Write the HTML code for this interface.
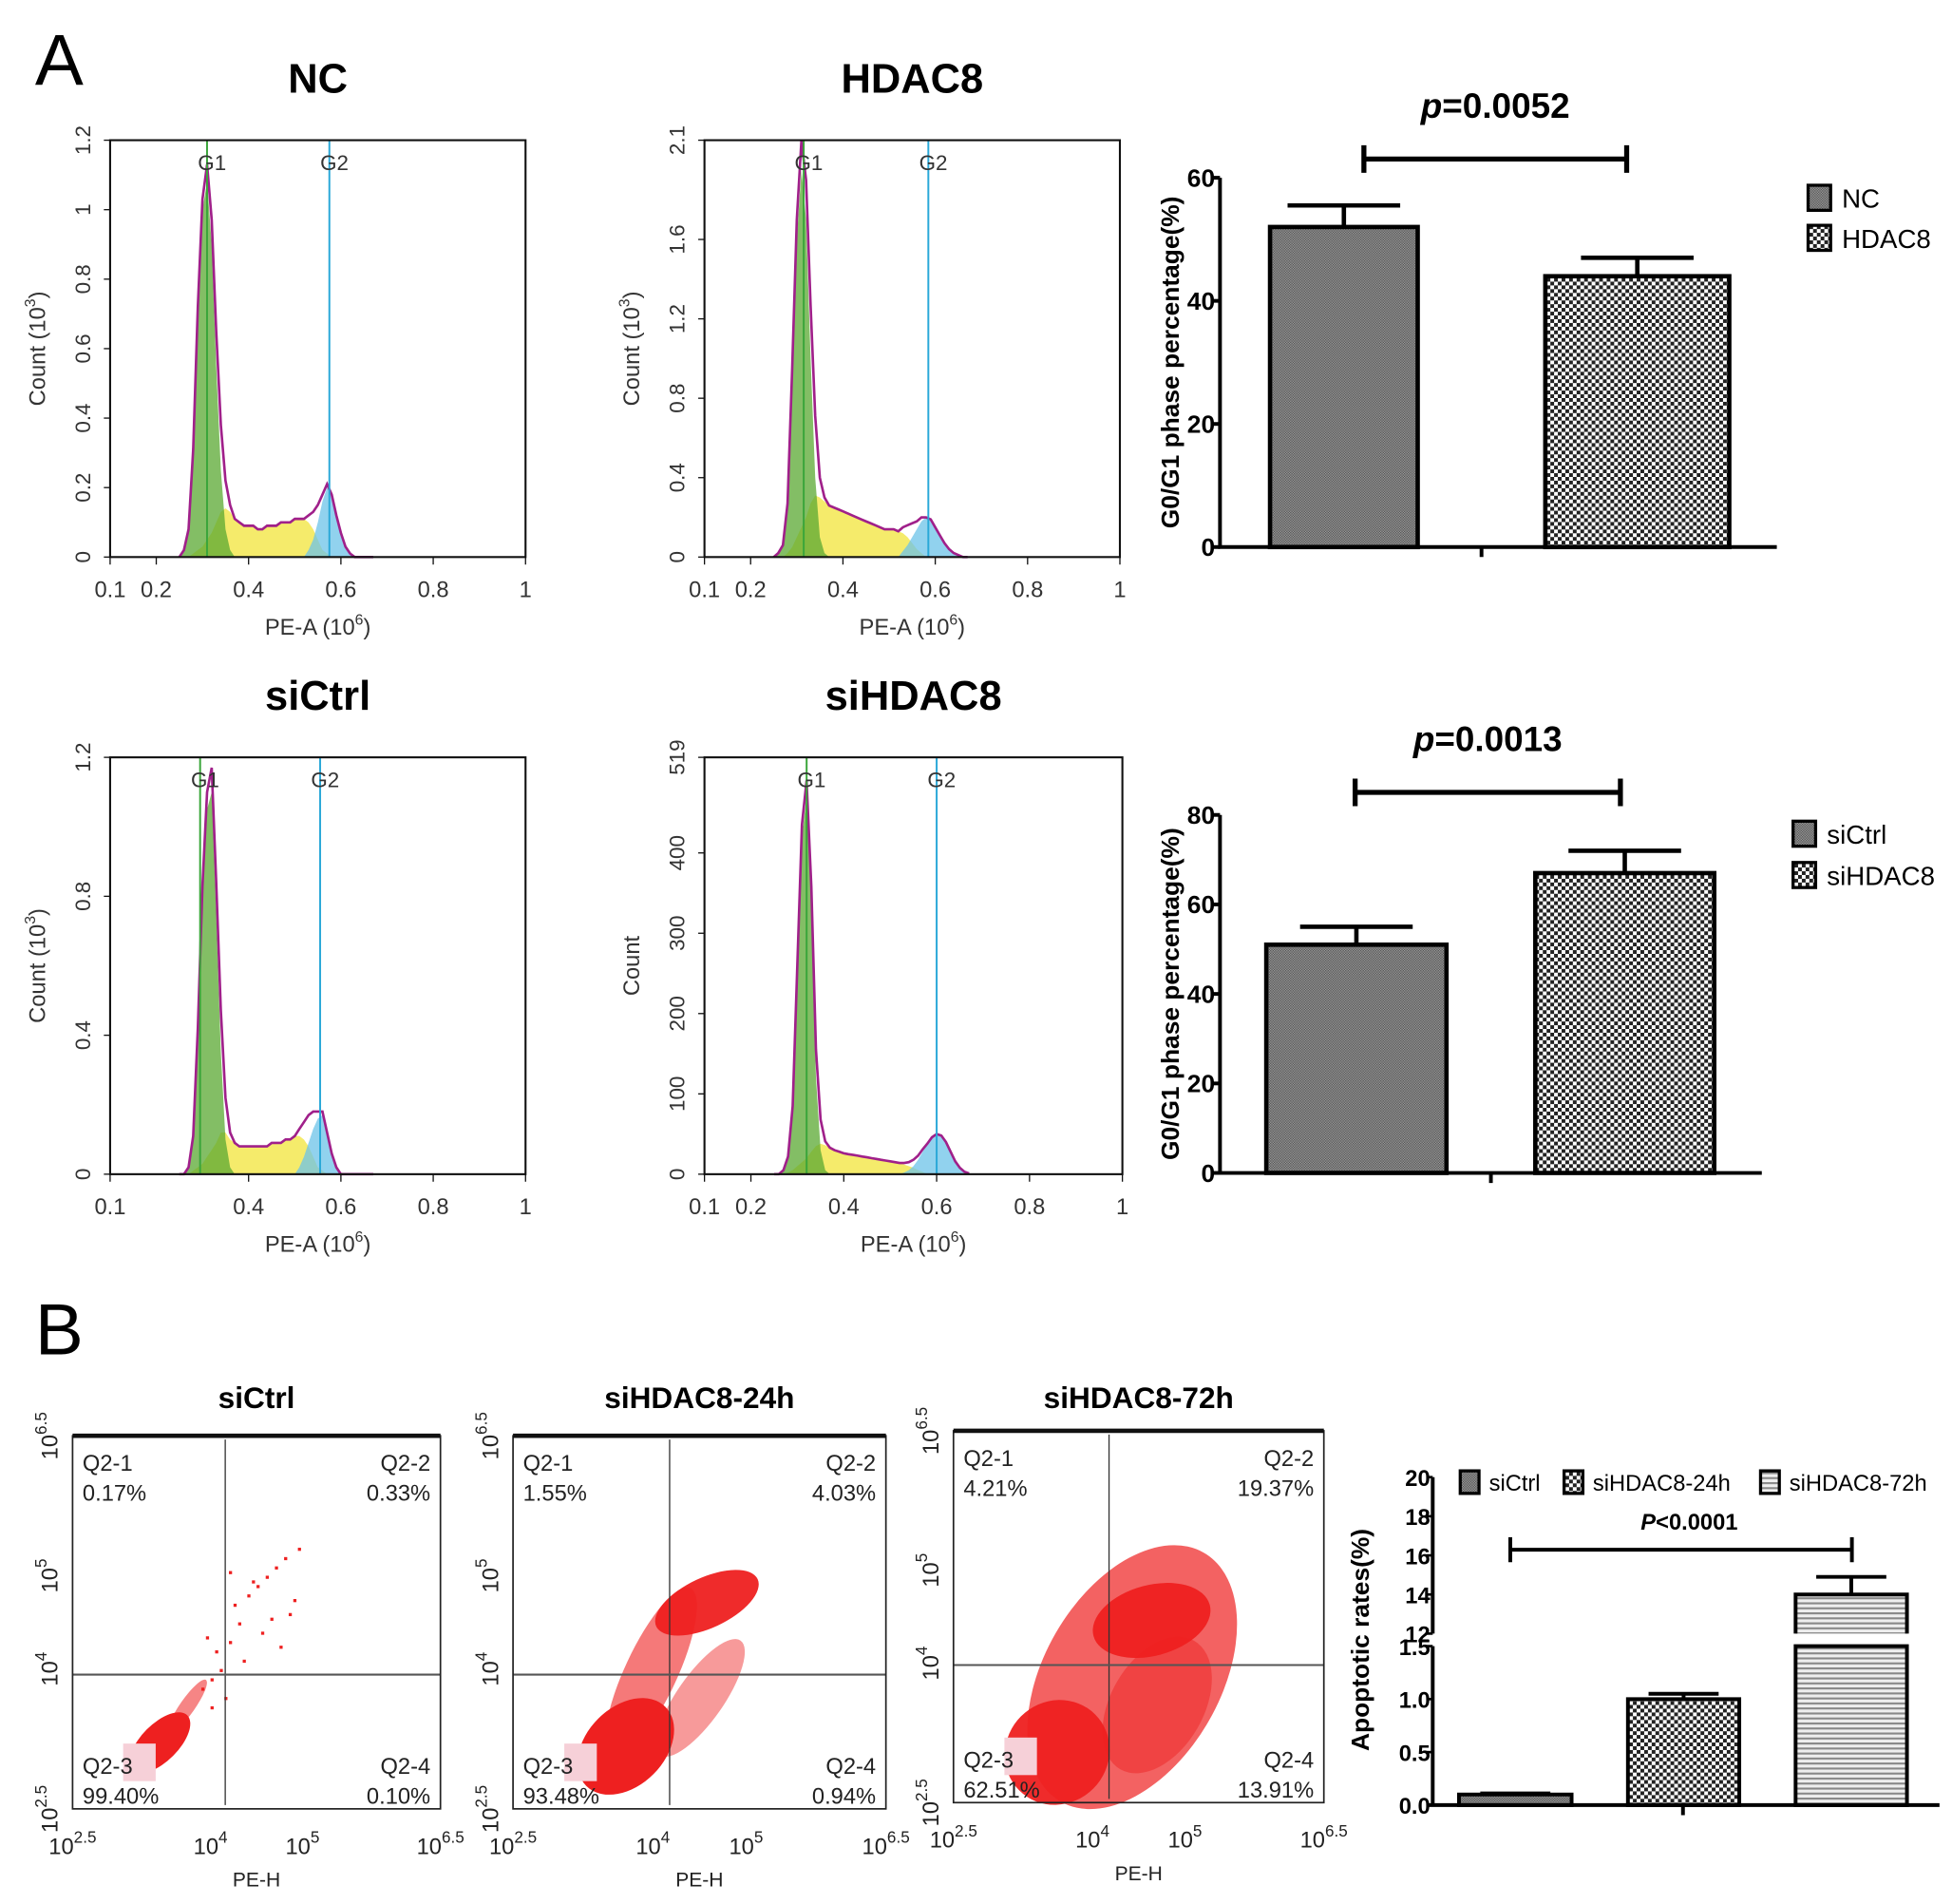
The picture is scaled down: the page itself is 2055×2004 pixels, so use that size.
<!DOCTYPE html>
<html><head><meta charset="utf-8">
<style>
html,body{margin:0;padding:0;background:#fff;}
svg{display:block;}
text{font-family:"Liberation Sans",sans-serif;}
</style></head>
<body>
<svg id="fig" width="2055" height="2004" viewBox="0 0 1560 1521" preserveAspectRatio="none" xmlns="http://www.w3.org/2000/svg">
<defs>
<pattern id="pGray" width="2" height="2" patternUnits="userSpaceOnUse"><rect width="2" height="2" fill="#9a9a9a"/><rect width="1" height="1" fill="#555"/><rect x="1" y="1" width="1" height="1" fill="#555"/></pattern>
<pattern id="pCheck" width="6" height="6" patternUnits="userSpaceOnUse"><rect width="6" height="6" fill="#fff"/><rect width="3" height="3" fill="#222"/><rect x="3" y="3" width="3" height="3" fill="#222"/></pattern>
<pattern id="pLines" width="4" height="4" patternUnits="userSpaceOnUse"><rect width="4" height="4" fill="#eee"/><rect width="4" height="1.6" fill="#888"/></pattern>
</defs>
<text x="28" y="68" font-size="58">A</text>
<text x="28" y="1082" font-size="58">B</text>
</svg>
<script>
const NS='http://www.w3.org/2000/svg';
const svg=document.getElementById('fig');
function mk(tag,attrs,parent){const e=document.createElementNS(NS,tag);for(const k in attrs)e.setAttribute(k,attrs[k]);(parent||svg).appendChild(e);return e;}

// ---------- Histogram data ----------
const histX=[0.25,0.26,0.27,0.28,0.29,0.30,0.31,0.32,0.33,0.34,0.35,0.36,0.37,0.38,0.39,0.40,0.41,0.42,0.43,0.44,0.45,0.46,0.47,0.48,0.49,0.50,0.51,0.52,0.53,0.54,0.55,0.56,0.57,0.58,0.59,0.60,0.61,0.62,0.63,0.64,0.65,0.66,0.67];
const ncG1=[0,.02,.08,.30,.70,1.0,1.08,.90,.55,.25,.08,.02,0,0,0,0,0,0,0,0,0,0,0,0,0,0,0,0,0,0,0,0,0,0,0,0,0,0,0,0,0,0,0];
const ncS=[0,0,0,.01,.02,.03,.05,.07,.10,.13,.14,.13,.11,.10,.09,.09,.09,.08,.08,.09,.09,.09,.10,.10,.10,.11,.11,.11,.10,.08,.05,.02,.01,0,0,0,0,0,0,0,0,0,0];
const ncG2=[0,0,0,0,0,0,0,0,0,0,0,0,0,0,0,0,0,0,0,0,0,0,0,0,0,0,0,0,.02,.05,.10,.16,.20,.18,.12,.07,.03,.01,0,0,0,0,0];
const hdG1=[0,.02,.06,.25,.9,1.6,1.95,1.7,1.0,.4,.1,.02,0,0,0,0,0,0,0,0,0,0,0,0,0,0,0,0,0,0,0,0,0,0,0,0,0,0,0,0,0,0,0];
const hdS=[0,0,0,.02,.05,.1,.15,.2,.27,.31,.30,.28,.26,.25,.24,.23,.22,.21,.20,.19,.18,.17,.16,.15,.14,.14,.14,.13,.12,.10,.07,.04,.02,0,0,0,0,0,0,0,0,0,0];
const hdG2=[0,0,0,0,0,0,0,0,0,0,0,0,0,0,0,0,0,0,0,0,0,0,0,0,0,0,0,0,.03,.06,.1,.14,.18,.2,.19,.15,.11,.07,.04,.02,.01,0,0];
const scG1=[0,0,.02,.1,.4,.8,1.05,1.1,.75,.35,.1,.02,0,0,0,0,0,0,0,0,0,0,0,0,0,0,0,0,0,0,0,0,0,0,0,0,0,0,0,0,0,0,0];
const scS=[0,0,0,.01,.02,.03,.05,.07,.09,.12,.12,.1,.09,.08,.08,.08,.08,.08,.08,.08,.09,.09,.09,.1,.1,.11,.11,.10,.08,.05,.02,.01,0,0,0,0,0,0,0,0,0,0,0];
const scG2=[0,0,0,0,0,0,0,0,0,0,0,0,0,0,0,0,0,0,0,0,0,0,0,0,0,0,.02,.05,.09,.13,.16,.17,.12,.06,.02,0,0,0,0,0,0,0,0];
const shG1=[0,0,5,20,80,250,420,470,330,120,30,5,0,0,0,0,0,0,0,0,0,0,0,0,0,0,0,0,0,0,0,0,0,0,0,0,0,0,0,0,0,0,0];
const shS=[0,0,0,2,5,10,15,20,28,35,38,36,33,30,28,26,25,24,23,22,21,20,19,18,17,16,15,14,12,10,8,5,3,0,0,0,0,0,0,0,0,0,0];
const shG2=[0,0,0,0,0,0,0,0,0,0,0,0,0,0,0,0,0,0,0,0,0,0,0,0,0,0,0,0,2,5,10,18,28,38,46,50,48,40,28,16,8,3,1];
const ncYTicks=["0","0.2","0.4","0.6","0.8","1","1.2"];
const hdYTicks=["0","0.4","0.8","1.2","1.6","2.1"];
const scYTicks=["0","0.4","0.8","1.2"];
const shYTicks=["0","100","200","300","400","519"];
const ncYVals=[0,0.2,0.4,0.6,0.8,1,1.2];
const hdYVals=[0,0.4,0.8,1.2,1.6,2.1];
const scYVals=[0,0.4,0.8,1.2];
const shYVals=[0,100,200,300,400,519];
const xTickA=[0.1,0.2,0.4,0.6,0.8,1];
const xTickB=[0.1,0.4,0.6,0.8,1];
const gateG1=[0.31,0.315,0.295,0.32];
const gateG2=[0.575,0.585,0.555,0.6];

function histogram(name,title,x0,x1,y0,y1,ymax,g1,s,g2,yt,yv,xt,gx1,gx2,ylab){
  const g=mk('g',{});
  
  
  const X=v=>x0+(v-0.1)/0.9*(x1-x0);
  const Y=v=>y1-v/ymax*(y1-y0);
  const t=mk('text',{x:(x0+x1)/2,y:y0-38,'font-size':33,'font-weight':'bold','text-anchor':'middle'},g);t.textContent=title;
  
  
  function area(arr,fill,nm){
    let d='M'+X(histX[0])+','+Y(0);
    arr.forEach((v,i)=>{d+=' L'+X(histX[i]).toFixed(1)+','+Y(v).toFixed(1);});
    d+=' L'+X(histX[histX.length-1])+','+Y(0)+' Z';
    const p=mk('path',{d:d,fill:fill,'fill-opacity':0.75,stroke:'none'},g);
    
    
  }
  area(s,'#f2e43a',name+'-s-phase');
  area(g1,'#5aa832',name+'-g1-peak');
  area(g2,'#6cc3e8',name+'-g2-peak');
  let d='';
  histX.forEach((xv,i)=>{d+=(i?' L':'M')+X(xv).toFixed(1)+','+Y(g1[i]+s[i]+g2[i]).toFixed(1);});
  const ln=mk('path',{d:d,fill:'none',stroke:'#a0208a','stroke-width':2},g);
  
  
  [[gx1,'#3aa53a','G1'],[gx2,'#2aa8d8','G2']].forEach(([gv,c,lab])=>{
    const l=mk('line',{x1:X(gv),x2:X(gv),y1:y0,y2:y1,stroke:c,'stroke-width':1.5},g);
    
    
    const tx=mk('text',{x:X(gv)+4,y:y0+24,'font-size':17,'text-anchor':'middle',fill:'#333'},g);tx.textContent=lab;
    
    
  });
  const box=mk('rect',{x:x0,y:y0,width:x1-x0,height:y1-y0,fill:'none',stroke:'#111','stroke-width':1.6},g);
  
  
  yv.forEach((v,i)=>{
    const tk=mk('line',{x1:x0-5,x2:x0,y1:Y(v),y2:Y(v),stroke:'#111'},g);
    
    
    const tl=mk('text',{x:0,y:0,'font-size':17,'text-anchor':'middle',fill:'#333',transform:'translate('+(x0-16)+','+Y(v)+') rotate(-90)'},g);tl.textContent=yt[i];
    
    
  });
  xt.forEach(v=>{
    const tk=mk('line',{x1:X(v),x2:X(v),y1:y1,y2:y1+6,stroke:'#111'},g);
    
    
    const tl=mk('text',{x:X(v),y:y1+32,'font-size':18,'text-anchor':'middle',fill:'#333'},g);tl.textContent=String(v);
    
    
  });
  const xl=mk('text',{x:(x0+x1)/2,y:y1+62,'font-size':18,'text-anchor':'middle',fill:'#333'},g);
  xl.innerHTML='PE-A (10<tspan dy="-8" font-size="12">6</tspan><tspan dy="8">)</tspan>';
  
  
  const yl=mk('text',{x:0,y:0,'font-size':18,'text-anchor':'middle',fill:'#333',transform:'translate('+(x0-52)+','+((y0+y1)/2)+') rotate(-90)'},g);
  yl.innerHTML=ylab?'Count (10<tspan dy="-8" font-size="12">3</tspan><tspan dy="8">)</tspan>':'Count';
  
  
}
histogram('hist-nc','NC',88,420,112,445,1.2,ncG1,ncS,ncG2,ncYTicks,ncYVals,xTickA,gateG1[0],gateG2[0],true);
histogram('hist-hdac8','HDAC8',563,895,112,445,2.1,hdG1,hdS,hdG2,hdYTicks,hdYVals,xTickA,gateG1[1],gateG2[1],true);
histogram('hist-sictrl','siCtrl',88,420,605,938,1.2,scG1,scS,scG2,scYTicks,scYVals,xTickB,gateG1[2],gateG2[2],true);
histogram('hist-sihdac8','siHDAC8',563,897,605,938,519,shG1,shS,shG2,shYTicks,shYVals,xTickA,gateG1[3],gateG2[3],false);

// ---------- Bar charts A ----------
const barA1Cats=['NC','HDAC8'];
const barA1Vals=[52,44];
const barA1Errs=[55.5,47];
const barA1Ticks=[0,20,40,60];
const barA2Cats=['siCtrl','siHDAC8'];
const barA2Vals=[51,67];
const barA2Errs=[55,72];
const barA2Ticks=[0,20,40,60,80];

function barChart(name,ax,xEnd,yTop,yBot,ymax,cats,vals,errs,ticks,bars,ptxt,bracket,legY){
  const g=mk('g',{});
  
  
  const Y=v=>yBot-v/ymax*(yBot-yTop);
  const fills=['url(#pGray)','url(#pCheck)'];
  cats.forEach((c,i)=>{
    const [bx0,bx1]=bars[i];
    const r=mk('rect',{x:bx0,y:Y(vals[i]),width:bx1-bx0,height:yBot-Y(vals[i]),fill:fills[i],stroke:'#000','stroke-width':3.5},g);
    
    
    const cx=(bx0+bx1)/2;
    const e=mk('path',{d:'M'+cx+','+Y(vals[i])+' V'+Y(errs[i])+' M'+(cx-45)+','+Y(errs[i])+' H'+(cx+45),stroke:'#000','stroke-width':3.5,fill:'none'},g);
    
    
    const lr=mk('rect',{x:xEnd+25,y:legY[i]-10,width:18,height:20,fill:fills[i],stroke:'#000','stroke-width':2.5},g);
    
    
    const lt=mk('text',{x:xEnd+52,y:legY[i]+8,'font-size':21},g);lt.textContent=c;
    
    
  });
  const axis=mk('path',{d:'M'+ax+','+yTop+' V'+yBot+' H'+xEnd+' M'+((bars[0][1]+bars[1][0])/2)+','+yBot+' v8',stroke:'#000','stroke-width':3,fill:'none'},g);
  
  
  ticks.forEach(v=>{
    const tk=mk('line',{x1:ax-6,x2:ax,y1:Y(v),y2:Y(v),stroke:'#000','stroke-width':3},g);
    
    
    const tl=mk('text',{x:ax-4,y:Y(v)+7,'font-size':20,'font-weight':'bold','text-anchor':'end'},g);tl.textContent=String(v);
    
    
  });
  const yl=mk('text',{x:0,y:0,'font-size':20,'font-weight':'bold','text-anchor':'middle',transform:'translate('+(ax-33)+','+((yTop+yBot)/2)+') rotate(-90)'},g);
  yl.textContent='G0/G1 phase percentage(%)';
  
  
  const [bx0,bx1,by]=bracket;
  const br=mk('path',{d:'M'+bx0+','+(by-11)+' v22 M'+bx0+','+by+' H'+bx1+' M'+bx1+','+(by-11)+' v22',stroke:'#000','stroke-width':4,fill:'none'},g);
  
  
  const pt=mk('text',{x:(bx0+bx1)/2,y:by-33,'font-size':28,'font-weight':'bold','text-anchor':'middle'},g);
  pt.innerHTML='<tspan font-style="italic">p</tspan>='+ptxt;
  
  
}
barChart('bar-chart-a1',975,1420,142,437,60,barA1Cats,barA1Vals,barA1Errs,barA1Ticks,[[1015,1133],[1235,1382]],'0.0052',[1090,1300,127],[158,190]);
barChart('bar-chart-a2',975,1408,651,937,80,barA2Cats,barA2Vals,barA2Errs,barA2Ticks,[[1012,1156],[1227,1370]],'0.0013',[1083,1295,633],[666,699]);

// ---------- Dot plots B ----------
const dotTitles=['siCtrl','siHDAC8-24h','siHDAC8-72h'];
const q1Vals=['0.17%','1.55%','4.21%'];
const q2Vals=['0.33%','4.03%','19.37%'];
const q3Vals=['99.40%','93.48%','62.51%'];
const q4Vals=['0.10%','0.94%','13.91%'];
const gateXLog=[4.16,4.18,4.18];
const gateYLog=[3.94,3.94,3.98];
const xTickExp=['2.5','4','5','6.5'];
const xTickLog=[2.5,4,5,6.5];
// clusters: [cxLog, cyLog, rxLog, ryLog, angleDeg, opacity]
const clustersCtrl=[[3.45,3.21,0.42,0.2,-45,1],[3.75,3.6,0.35,0.08,-55,0.55]];
const clusters24=[[3.98,3.96,1.0,0.28,-65,0.6],[4.51,3.69,0.75,0.25,-55,0.45],[3.71,3.17,0.6,0.42,-45,1],[4.58,4.71,0.6,0.27,-25,0.95]];
const clusters72=[[4.43,3.85,1.55,0.95,-60,0.7],[4.7,3.55,0.8,0.5,-60,0.45],[3.62,3.04,0.58,0.55,-45,0.95],[4.64,4.46,0.65,0.38,-15,0.95]];
const ctrlSparseX=[3.9,4.0,4.1,4.05,4.2,4.3,4.25,4.4,4.5,4.6,4.7,4.8,4.95,4.85,4.55,4.35,4.15,4.45,4.65,4.9,4.2,4.0,3.95,4.75];
const ctrlSparseY=[3.8,3.9,4.0,4.2,4.3,4.5,4.7,4.8,4.9,5.0,5.1,5.2,5.3,4.6,4.4,4.1,3.7,4.95,4.55,4.75,5.05,3.6,4.35,4.25];
const dotBoxes=[[58,352,1147,1445],[410,708,1147,1445],[762,1058,1143,1440]];
const dotClusters=[clustersCtrl,clusters24,clusters72];

dotBoxes.forEach((b,k)=>{
  const [x0,x1,y0,y1]=b;
  const nm='dot-plot-'+dotTitles[k].toLowerCase();
  const g=mk('g',{});
  
  
  const X=v=>x0+(v-2.5)/4*(x1-x0);
  const Y=v=>y1-(v-2.5)/4*(y1-y0);
  const t=mk('text',{x:(x0+x1)/2,y:1125,'font-size':24,'font-weight':'bold','text-anchor':'middle'},g);t.textContent=dotTitles[k];
  
  
  dotClusters[k].forEach(c=>{
    const e=mk('ellipse',{cx:X(c[0]),cy:Y(c[1]),rx:c[2]/4*(x1-x0),ry:c[3]/4*(y1-y0),fill:'#ee2020','fill-opacity':c[5],transform:'rotate('+c[4]+' '+X(c[0])+' '+Y(c[1])+')'},g);
    
    
  });
  if(k===0){ctrlSparseX.forEach((xv,i)=>{
    const p=mk('rect',{x:X(xv),y:Y(ctrlSparseY[i]),width:2.5,height:2.5,fill:'#ee2020'},g);
    
    
  });}
  const pk=mk('rect',{x:X(3.05),y:Y(3.2),width:26,height:30,fill:'#f6d0d8'},g);
  
  
  const gv=mk('line',{x1:X(gateXLog[k]),x2:X(gateXLog[k]),y1:y0+3,y2:y1-3,stroke:'#333','stroke-width':1},g);
  
  
  const gh=mk('line',{x1:x0,x2:x1,y1:Y(gateYLog[k]),y2:Y(gateYLog[k]),stroke:'#555','stroke-width':1.6},g);
  
  
  const box=mk('rect',{x:x0,y:y0,width:x1-x0,height:y1-y0,fill:'none',stroke:'#222','stroke-width':1.3},g);
  
  
  const tb=mk('line',{x1:x0,x2:x1,y1:y0,y2:y0,stroke:'#111','stroke-width':3.5},g);
  
  
  const labs=[['Q2-1',q1Vals[k],x0+8,y0+28,'start'],['Q2-2',q2Vals[k],x1-8,y0+28,'end'],['Q2-3',q3Vals[k],x0+8,y1-28,'start'],['Q2-4',q4Vals[k],x1-8,y1-28,'end']];
  labs.forEach(l=>{
    const a=mk('text',{x:l[2],y:l[3],'font-size':18,'text-anchor':l[4],fill:'#222'},g);a.textContent=l[0];
    
    
    const bb=mk('text',{x:l[2],y:l[3]+24,'font-size':18,'text-anchor':l[4],fill:'#222'},g);bb.textContent=l[1];
    
    
  });
  xTickLog.forEach((v,i)=>{
    const tl=mk('text',{x:X(v),y:y1+36,'font-size':18,'text-anchor':'middle',fill:'#222'},g);
    tl.innerHTML='10<tspan dy="-9" font-size="13">'+xTickExp[i]+'</tspan>';
    
    
    const ty=mk('text',{x:0,y:0,'font-size':18,'text-anchor':'middle',fill:'#222',transform:'translate('+(x0-12)+','+Y(v)+') rotate(-90)'},g);
    ty.innerHTML='10<tspan dy="-9" font-size="13">'+xTickExp[i]+'</tspan>';
    
    
  });
  const xl=mk('text',{x:(x0+x1)/2,y:y1+62,'font-size':16,'text-anchor':'middle',fill:'#222'},g);xl.textContent='PE-H';
  
  
});

// ---------- Broken-axis bar chart B ----------
const barBCats=['siCtrl','siHDAC8-24h','siHDAC8-72h'];
const barBVals=[0.1,1.0,14];
const barBErrs=[0.11,1.05,14.9];
const barBLowTicks=[0,0.5,1.0,1.5];
const barBHighTicks=[12,14,16,18,20];
(function(){
  const g=mk('g',{});
  
  
  const ax=1145,yB=1442,yL=1315,yH0=1305,yH1=1180;
  const Y=v=>v<=1.5? yB-v/1.5*(yB-yL) : yH0-(v-12)/8*(yH0-yH1);
  const fills=['url(#pGray)','url(#pCheck)','url(#pLines)'];
  const bars=[[1166,1256],[1301,1390],[1435,1524]];
  barBCats.forEach((c,i)=>{
    const [b0,b1]=bars[i];const cx=(b0+b1)/2;
    if(barBVals[i]<=1.5){
      const r=mk('rect',{x:b0,y:Y(barBVals[i]),width:b1-b0,height:yB-Y(barBVals[i]),fill:fills[i],stroke:'#000','stroke-width':3},g);
      
      
    } else {
      const r=mk('rect',{x:b0,y:yL,width:b1-b0,height:yB-yL,fill:fills[i],stroke:'#000','stroke-width':3},g);
      
      
      const r2=mk('path',{d:'M'+b0+','+yH0+' V'+Y(barBVals[i])+' H'+b1+' V'+yH0,fill:fills[i],stroke:'#000','stroke-width':3},g);
      
      
    }
    const e=mk('path',{d:'M'+cx+','+Y(barBVals[i])+' V'+Y(barBErrs[i])+' M'+(cx-28)+','+Y(barBErrs[i])+' H'+(cx+28),stroke:'#000','stroke-width':3,fill:'none'},g);
    
    
  });
  const axis=mk('path',{d:'M'+ax+','+yH1+' V'+yH0+' M'+ax+','+yL+' V'+yB+' M1140,'+yB+' H1550 M1345,'+yB+' v8',stroke:'#000','stroke-width':3,fill:'none'},g);
  
  
  barBLowTicks.concat(barBHighTicks).forEach(v=>{
    const tk=mk('line',{x1:ax-5,x2:ax,y1:Y(v),y2:Y(v),stroke:'#000','stroke-width':2},g);
    
    
    const tl=mk('text',{x:ax-2,y:Y(v)+7,'font-size':18,'font-weight':'bold','text-anchor':'end'},g);tl.textContent=v<=1.5?v.toFixed(1):String(v);
    
    
  });
  const yl=mk('text',{x:0,y:0,'font-size':20,'font-weight':'bold','text-anchor':'middle',transform:'translate(1094,1310) rotate(-90)'},g);yl.textContent='Apoptotic rates(%)';
  
  
  const legX=[1167,1250,1407];
  barBCats.forEach((c,i)=>{
    const lr=mk('rect',{x:legX[i],y:1175,width:15,height:18,fill:fills[i],stroke:'#000','stroke-width':2.5},g);
    
    
    const lt=mk('text',{x:legX[i]+23,y:1191,'font-size':18},g);lt.textContent=c;
    
    
  });
  const br=mk('path',{d:'M1207,1228 v20 M1207,1238 H1480 M1480,1228 v20',stroke:'#000','stroke-width':3,fill:'none'},g);
  
  
  const pt=mk('text',{x:1350,y:1222,'font-size':18,'font-weight':'bold','text-anchor':'middle'},g);
  pt.innerHTML='<tspan font-style="italic">P</tspan>&lt;0.0001';
  
  
})();
</script>
</body></html>
